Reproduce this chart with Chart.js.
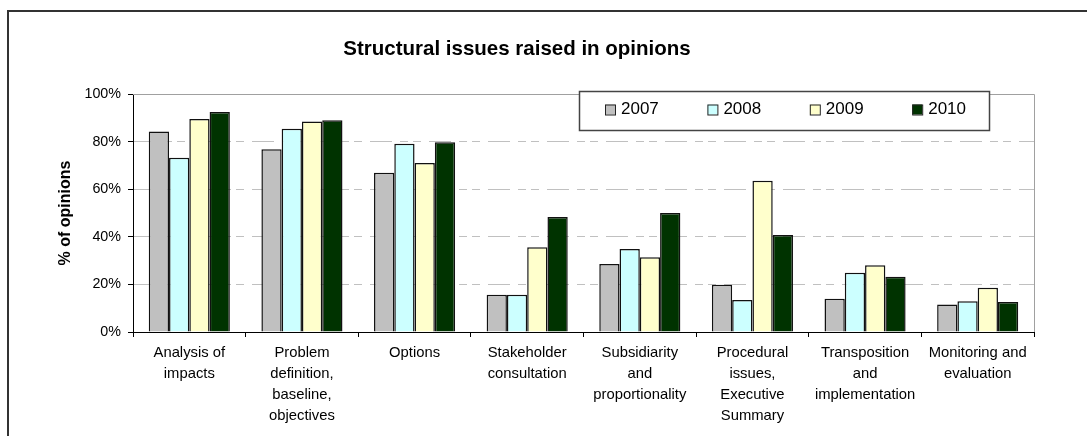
<!DOCTYPE html>
<html>
<head>
<meta charset="utf-8">
<script src="https://cdn.jsdelivr.net/npm/chart.js@4/dist/chart.umd.min.js"></script>
<style>
  html, body { margin: 0; padding: 0; background: #fff; }
  #wrap { width: 1087px; height: 436px; position: relative; }
</style>
</head>
<body>
<div id="wrap"><canvas id="myChart" width="1087" height="436"></canvas></div>
<script>
// chart values
const categories = [
    ['Analysis of', 'impacts'],
    ['Problem', 'definition,', 'baseline,', 'objectives'],
    ['Options'],
    ['Stakeholder', 'consultation'],
    ['Subsidiarity', 'and', 'proportionality'],
    ['Procedural', 'issues,', 'Executive', 'Summary'],
    ['Transposition', 'and', 'implementation'],
    ['Monitoring and', 'evaluation']
];
const years = ['2007', '2008', '2009', '2010'];
const values2007 = [84.2, 76.8, 66.9, 15.7, 28.6, 19.9, 14.0, 11.6];
const values2008 = [73.2, 85.4, 79.1, 15.7, 34.9, 13.4, 24.9, 12.9];
const values2009 = [89.5, 88.4, 71.0, 35.6, 31.4, 63.6, 28.0, 18.6];
const values2010 = [92.4, 89.0, 79.7, 48.3, 50.0, 40.8, 23.2, 12.6];
const yTicks = [0, 20, 40, 60, 80, 100];

const colors = ['#c0c0c0', '#ccffff', '#ffffcc', '#003300'];
const font = 'Liberation Sans, Arial, sans-serif';

// outer frame and grey plot border (top/right)
const framePlugin = {
    id: 'frame',
    beforeDatasetsDraw(chart) {
        const {ctx, chartArea} = chart;
        ctx.save();
        ctx.strokeStyle = '#a0a0a0';
        ctx.lineWidth = 1;
        ctx.beginPath();
        ctx.moveTo(chartArea.left, chartArea.top + 0.5);
        ctx.lineTo(chartArea.right + 0.5, chartArea.top + 0.5);
        ctx.lineTo(chartArea.right + 0.5, chartArea.bottom);
        ctx.stroke();
        ctx.restore();
    },
    afterDraw(chart) {
        const ctx = chart.ctx;
        ctx.save();
        ctx.strokeStyle = '#333';
        ctx.lineWidth = 2;
        ctx.strokeRect(8, 11, 1200, 600);
        ctx.restore();
    }
};

// boxed legend overlapping the top of the plot
const boxLegend = {
    id: 'boxLegend',
    afterDatasetsDraw(chart) {
        const ctx = chart.ctx;
        const x0 = 579, y0 = 91, w = 410, h = 39;
        ctx.save();
        ctx.fillStyle = '#fff';
        ctx.fillRect(x0, y0, w, h);
        ctx.strokeStyle = '#444';
        ctx.lineWidth = 1.5;
        ctx.strokeRect(x0 + 0.5, y0 + 0.5, w, h);
        ctx.font = '17px ' + font;
        ctx.textBaseline = 'middle';
        chart.data.datasets.forEach((ds, i) => {
            const mx = 605 + i * 102.4;
            const my = y0 + h / 2 - 1;
            ctx.fillStyle = ds.backgroundColor;
            ctx.fillRect(mx, my - 5, 10, 10);
            ctx.strokeStyle = '#222';
            ctx.lineWidth = 1;
            ctx.strokeRect(mx + 0.5, my - 4.5, 10, 10);
            ctx.fillStyle = '#000';
            ctx.fillText(ds.label, mx + 16, my);
        });
        ctx.restore();
    }
};

let myChart = new Chart(document.querySelector('#myChart').getContext('2d'), {
    type: 'bar',
    data: {
        labels: categories,
        datasets: [
            {label: years[0], data: values2007, backgroundColor: colors[0]},
            {label: years[1], data: values2008, backgroundColor: colors[1]},
            {label: years[2], data: values2009, backgroundColor: colors[2]},
            {label: years[3], data: values2010, backgroundColor: colors[3]}
        ].map(d => Object.assign(d, {
            borderColor: '#111',
            borderWidth: 1.5,
            categoryPercentage: 0.72,
            barPercentage: 1
        }))
    },
    options: {
        responsive: false,
        animation: false,
        layout: {padding: {left: 0, right: 53, top: 0, bottom: 0}},
        plugins: {
            legend: {display: false},
            tooltip: {enabled: false},
            title: {
                display: true,
                text: 'Structural issues raised in opinions',
                color: '#000',
                font: {family: font, size: 20.5, weight: 'bold', lineHeight: 1.2},
                padding: {top: 37, bottom: 32.4}
            }
        },
        scales: {
            x: {
                afterFit: s => { s.height = 104; },
                grid: {
                    offset: true,
                    drawOnChartArea: false,
                    drawTicks: true,
                    tickLength: 5,
                    tickColor: '#000'
                },
                border: {color: '#000', width: 1},
                ticks: {
                    color: '#000',
                    autoSkip: false,
                    maxRotation: 0,
                    minRotation: 0,
                    padding: 5,
                    font: {family: font, size: 14.8, lineHeight: 1.42}
                }
            },
            y: {
                min: 0,
                max: 100,
                afterFit: s => { s.width = 133; },
                afterBuildTicks: s => { s.ticks = yTicks.map(v => ({value: v})); },
                grid: {
                    color: '#c0c0c0',
                    lineWidth: 1,
                    tickLength: 5,
                    tickColor: '#000'
                },
                border: {color: '#000', width: 1, dash: [22, 8, 8, 5, 8, 8]},
                ticks: {
                    color: '#000',
                    padding: 7,
                    font: {family: font, size: 14.3},
                    callback: v => v + '%'
                },
                title: {
                    display: true,
                    text: '% of opinions',
                    color: '#000',
                    font: {family: font, size: 16, weight: 'bold', lineHeight: 1.2},
                    padding: {top: 56, bottom: 0}
                }
            }
        }
    },
    plugins: [framePlugin, boxLegend]
});
</script>
</body>
</html>
